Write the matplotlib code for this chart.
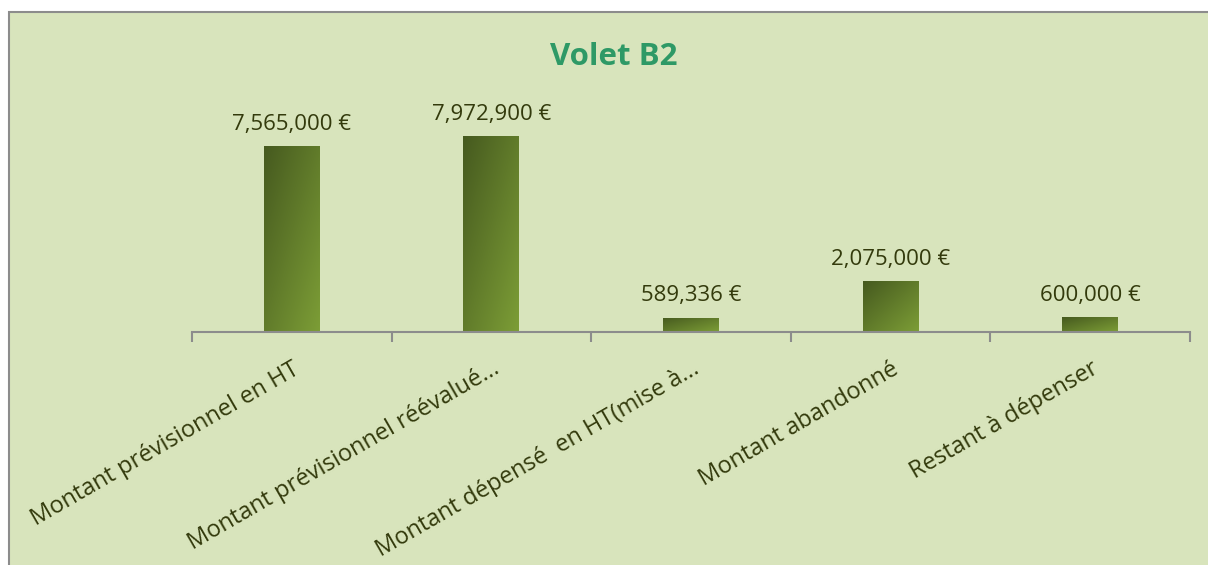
import numpy as np
import matplotlib
matplotlib.use('Agg')
import matplotlib.pyplot as plt
from matplotlib.patches import Rectangle
from matplotlib.colors import LinearSegmentedColormap

# Data
categories = ['Montant prévisionnel en HT',
              'Montant prévisionnel réévalué...',
              'Montant dépensé  en HT(mise à...',
              'Montant abandonné',
              'Restant à dépenser']
values = [7565000, 7972900, 589336, 2075000, 600000]

BG = '#D8E4BC'
TXT = '#333A0C'
plt.rcParams['font.family'] = ['Open Sans', 'DejaVu Sans']

fig = plt.figure(figsize=(12.08, 5.65), dpi=100)
fig.patch.set_facecolor('white')

# chart area with gray border
fig.patches.append(Rectangle((9 / 1208, -0.05), 1.1, 1 - 12 / 565 + 0.05,
                             transform=fig.transFigure, facecolor=BG,
                             edgecolor='#8C8C8C', linewidth=1.5, zorder=-5))

ax = fig.add_axes([192 / 1208, 1 - 332 / 565, (1190 - 192) / 1208, 226 / 565])
ax.set_zorder(2)
ax.set_facecolor('none')

x = np.arange(len(categories))
bar_w = 0.28
bars = ax.bar(x, values, width=bar_w, color='none', edgecolor='none')

# diagonal gradient inside each bar
cmap = LinearSegmentedColormap.from_list('g', ['#465A1F', '#7C9D36'])
n = 64
u = np.linspace(0, 1, n)
grad = (u[None, :] + u[:, None]) / 2  # top-left dark -> bottom-right light
for b in bars:
    x0, w, h = b.get_x(), b.get_width(), b.get_height()
    im = ax.imshow(grad, cmap=cmap, extent=[x0, x0 + w, 0, h], aspect='auto',
                   origin='upper', zorder=2, vmin=0, vmax=1)
    im.set_clip_path(b)

ax.set_xlim(-0.5, len(categories) - 0.5)
ax.set_ylim(0, 9.2e6)

for xi, v in zip(x, values):
    ax.annotate(f'{v:,.0f} €', (xi, v), xytext=(0, 8), textcoords='offset points',
                ha='center', va='bottom', fontsize=16, color=TXT)

for s in ['top', 'right', 'left']:
    ax.spines[s].set_visible(False)
ax.spines['bottom'].set_color('#8C8C8C')
ax.spines['bottom'].set_linewidth(1.5)
ax.set_yticks([])

ax.set_xticks(x)
ax.set_xticklabels(categories, rotation=30, ha='right', rotation_mode='anchor',
                   fontsize=17, color=TXT)
ax.tick_params(axis='x', which='major', length=0, pad=18)
ax.set_xticks(np.arange(-0.5, len(categories)), minor=True)
ax.tick_params(axis='x', which='minor', length=7, width=1.5, color='#8C8C8C')

fig.text(614 / 1208, 1 - 57 / 565, 'Volet B2', ha='center', va='center',
         fontsize=22.5, fontweight='bold', color='#2E9966')

plt.savefig('out.png', dpi=100)
